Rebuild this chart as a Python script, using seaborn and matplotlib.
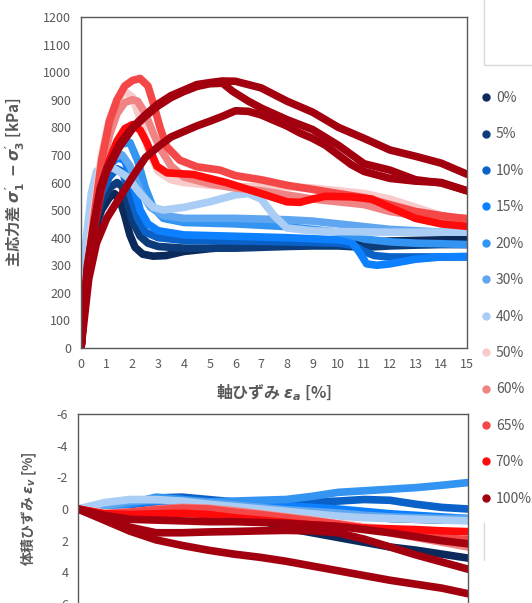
import pandas as pd
import seaborn as sns
import matplotlib.pyplot as plt
from matplotlib.lines import Line2D

# ---------------- data ----------------
legend_labels = ['0%', '5%', '10%', '15%', '20%', '30%', '40%', '50%', '60%', '65%', '70%', '100%']
legend_colors = ['#0b2a5b', '#0c3d7a', '#0a62c9', '#0c80ff', '#3394f2', '#5ea6f0', '#a9cdf5',
                 '#f9caca', '#f08484', '#f44848', '#ff0a0a', '#a3000f']

# tests in drawing order (three tests at 100%)
tests = ['0%', '5%', '10%', '15%', '20%', '30%', '40%', '50%', '60%', '65%', '70%',
         '100%a', '100%b', '100%c']

# deviator stress (kPa) vs axial strain (%)
s_00 = [0, 0.2, 0.5, 0.8, 1.1, 1.3, 1.5, 1.7, 1.9, 2.1, 2.4, 2.8, 3.3, 4, 5, 6, 7, 8, 9, 10, 11, 12, 13, 14, 15]
q_00 = [0, 250, 420, 500, 545, 560, 540, 480, 410, 365, 340, 333, 335, 350, 360, 368, 372, 375, 375, 378, 383, 388, 390, 392, 393]
s_05 = [0, 0.2, 0.5, 0.8, 1.1, 1.4, 1.6, 1.8, 2.0, 2.3, 2.6, 3.0, 4, 6, 8, 9, 10, 11, 12, 13, 14, 15]
q_05 = [0, 260, 440, 530, 580, 600, 585, 530, 460, 405, 380, 368, 362, 362, 368, 370, 370, 365, 370, 373, 375, 375]
s_10 = [0, 0.2, 0.5, 0.8, 1.1, 1.4, 1.6, 1.9, 2.2, 2.5, 3, 4, 6, 8, 10, 10.6, 11, 11.4, 12, 13, 14, 15]
q_10 = [0, 270, 460, 560, 620, 650, 640, 560, 470, 420, 400, 390, 388, 385, 380, 372, 350, 335, 330, 330, 330, 330]
s_15 = [0, 0.2, 0.5, 0.8, 1.1, 1.4, 1.7, 2.0, 2.3, 2.6, 3, 4, 6, 8, 10, 10.5, 10.8, 11.1, 11.5, 12, 13, 14, 15]
q_15 = [0, 280, 480, 590, 660, 690, 680, 600, 500, 450, 425, 410, 405, 400, 392, 385, 350, 305, 300, 305, 322, 330, 332]
s_20 = [0, 0.2, 0.5, 0.8, 1.2, 1.6, 1.9, 2.2, 2.5, 2.8, 3.2, 4, 6, 8, 10, 11, 12, 13, 14, 15]
q_20 = [0, 290, 500, 620, 700, 740, 745, 680, 580, 510, 470, 455, 450, 440, 420, 395, 385, 380, 378, 375]
s_30 = [0, 0.2, 0.5, 0.8, 1.2, 1.6, 1.9, 2.3, 2.7, 3.2, 4, 6, 8, 9, 10, 11, 12, 13, 14, 15]
q_30 = [0, 320, 530, 640, 690, 700, 660, 570, 510, 480, 470, 470, 465, 460, 450, 440, 430, 425, 420, 420]
s_40 = [0, 0.15, 0.4, 0.6, 0.9, 1.3, 1.8, 2.3, 2.8, 3.2, 4, 5, 6, 6.5, 7, 7.5, 8, 9, 10, 12, 14, 15]
q_40 = [0, 350, 560, 640, 660, 650, 620, 560, 510, 500, 510, 530, 555, 560, 540, 480, 435, 425, 422, 420, 420, 420]
s_50 = [0, 0.2, 0.5, 0.8, 1.1, 1.4, 1.7, 2.0, 2.3, 2.6, 3.0, 3.5, 4, 5, 6, 7, 8, 9, 10, 11, 12, 13, 14, 15]
q_50 = [0, 250, 500, 700, 830, 900, 930, 910, 830, 720, 640, 610, 600, 590, 585, 585, 585, 580, 570, 560, 540, 510, 480, 460]
s_60 = [0, 0.2, 0.5, 0.8, 1.1, 1.4, 1.7, 2.0, 2.2, 2.5, 2.8, 3.1, 3.5, 4, 5, 6, 7, 8, 9, 10, 11, 12, 13, 14, 15]
q_60 = [0, 230, 450, 640, 770, 850, 890, 900, 895, 850, 780, 720, 660, 620, 595, 580, 570, 555, 540, 530, 520, 495, 480, 475, 470]
s_65 = [0, 0.2, 0.5, 0.8, 1.1, 1.4, 1.7, 2.0, 2.3, 2.6, 2.8, 3.07, 3.33, 3.84, 4.5, 5.4, 6, 7, 8, 9, 10, 11, 12, 13, 14, 15]
q_65 = [0, 230, 470, 680, 820, 900, 950, 970, 977, 950, 890, 800, 730, 681, 657, 645, 625, 610, 590, 575, 560, 545, 520, 495, 480, 468]
s_70 = [0, 0.2, 0.5, 0.8, 1.1, 1.4, 1.7, 2.0, 2.3, 2.56, 2.95, 3.34, 4.37, 5.67, 7, 8, 8.5, 9, 9.5, 10.5, 11.3, 12, 13, 14, 15]
q_70 = [0, 220, 430, 580, 680, 750, 795, 810, 790, 744, 659, 635, 629, 599, 560, 530, 528, 540, 550, 548, 540, 510, 470, 450, 441]
s_100a = [0, 0.25, 0.5, 0.75, 1.0, 1.5, 2.0, 2.5, 3.0, 3.5, 4.0, 4.5, 5, 5.5, 6, 7, 8, 9, 10, 11, 12, 13, 14, 15]
q_100a = [0, 300, 450, 580, 650, 740, 800, 845, 885, 915, 935, 955, 962, 968, 967, 943, 895, 855, 800, 760, 718, 695, 670, 630]
s_100b = [0, 0.25, 0.5, 0.75, 1.0, 1.5, 2.0, 2.5, 3.0, 3.5, 4.0, 4.5, 5, 5.5, 5.9, 6.5, 7, 8, 9, 10, 11, 12, 13, 14, 15]
q_100b = [0, 290, 440, 570, 640, 730, 795, 840, 878, 908, 930, 948, 958, 960, 930, 895, 870, 828, 792, 735, 668, 645, 610, 598, 570]
s_100c = [0, 0.3, 0.6, 1.0, 1.5, 2, 2.5, 3, 3.5, 4, 4.5, 5, 5.5, 6, 6.5, 7, 7.5, 8, 8.5, 9, 9.5, 10, 10.5, 11, 12, 13, 14, 15]
q_100c = [0, 250, 380, 470, 545, 620, 690, 730, 765, 785, 805, 822, 840, 860, 858, 845, 825, 805, 780, 760, 735, 700, 665, 640, 615, 605, 600, 570]

# volumetric strain (%) read at integer axial strains
vol_strain = [0, 1, 2, 3, 4, 5, 6, 7, 8, 9, 10, 11, 12, 13, 14, 15]
ev_00 = [0, 0.02, 0.0, -0.1, -0.1, 0.05, 0.3, 0.7, 1.2, 1.5, 1.8, 2.1, 2.4, 2.6, 2.85, 3.1]
ev_05 = [0, 0.02, 0.0, -0.15, -0.2, -0.1, 0.0, 0.1, 0.2, 0.3, 0.35, 0.45, 0.6, 0.65, 0.7, 0.7]
ev_10 = [0, -0.05, -0.3, -0.7, -0.75, -0.6, -0.45, -0.4, -0.4, -0.45, -0.5, -0.6, -0.55, -0.3, -0.1, 0.0]
ev_15 = [0, -0.02, -0.3, -0.5, -0.45, -0.35, -0.3, -0.25, -0.2, -0.1, 0.0, 0.15, 0.3, 0.4, 0.5, 0.6]
ev_20 = [0, -0.05, -0.35, -0.75, -0.6, -0.45, -0.5, -0.55, -0.6, -0.8, -1.05, -1.15, -1.25, -1.35, -1.5, -1.67]
ev_30 = [0, -0.2, -0.5, -0.55, -0.5, -0.4, -0.25, -0.1, 0.05, 0.15, 0.25, 0.4, 0.5, 0.55, 0.6, 0.6]
ev_40 = [0, -0.4, -0.6, -0.6, -0.5, -0.3, -0.15, 0.0, 0.15, 0.3, 0.45, 0.55, 0.6, 0.65, 0.7, 0.75]
ev_50 = [0, 0.25, 0.2, 0.05, -0.05, 0.0, 0.15, 0.3, 0.5, 0.7, 0.9, 1.1, 1.3, 1.45, 1.6, 1.7]
ev_60 = [0, 0.3, 0.2, 0.0, -0.1, -0.05, 0.1, 0.3, 0.5, 0.7, 0.95, 1.2, 1.5, 1.8, 2.1, 2.4]
ev_65 = [0, 0.3, 0.2, 0.05, -0.05, 0.0, 0.2, 0.35, 0.55, 0.75, 0.95, 1.2, 1.45, 1.65, 1.8, 1.95]
ev_70 = [0, 0.3, 0.35, 0.3, 0.27, 0.35, 0.55, 0.7, 0.85, 1.0, 1.1, 1.2, 1.25, 1.3, 1.38, 1.43]
ev_100a = [0, 0.4, 0.65, 0.7, 0.75, 0.8, 0.8, 0.85, 0.9, 1.0, 1.1, 1.3, 1.5, 1.75, 2.0, 2.2]
ev_100b = [0, 0.6, 1.15, 1.5, 1.5, 1.45, 1.42, 1.38, 1.35, 1.38, 1.5, 1.9, 2.4, 2.9, 3.35, 3.8]
ev_100c = [0, 0.7, 1.4, 1.95, 2.3, 2.6, 2.85, 3.05, 3.3, 3.6, 3.9, 4.2, 4.5, 4.75, 5.0, 5.35]

# ---------------- tables ----------------
strains = [s_00, s_05, s_10, s_15, s_20, s_30, s_40, s_50, s_60, s_65, s_70, s_100a, s_100b, s_100c]
stresses = [q_00, q_05, q_10, q_15, q_20, q_30, q_40, q_50, q_60, q_65, q_70, q_100a, q_100b, q_100c]
vols = [ev_00, ev_05, ev_10, ev_15, ev_20, ev_30, ev_40, ev_50, ev_60, ev_65, ev_70, ev_100a, ev_100b, ev_100c]

qdf = pd.concat([pd.DataFrame({'test': t, 'strain': s, 'q': q})
                 for t, s, q in zip(tests, strains, stresses)], ignore_index=True)
vdf = pd.concat([pd.DataFrame({'test': t, 'strain': vol_strain, 'ev': v})
                 for t, v in zip(tests, vols)], ignore_index=True)

pal = dict(zip(legend_labels, legend_colors))
pal['100%a'] = pal['100%b'] = pal['100%c'] = pal['100%']

# ---------------- style ----------------
sns.set_style('white')
plt.rcParams['font.family'] = ['Noto Sans CJK JP', 'DejaVu Sans']
plt.rcParams['axes.unicode_minus'] = False
plt.rcParams['mathtext.fontset'] = 'custom'
plt.rcParams['mathtext.it'] = 'DejaVu Sans:italic:bold'
plt.rcParams['mathtext.rm'] = 'DejaVu Sans:bold'
plt.rcParams['mathtext.bf'] = 'DejaVu Sans:bold'

grey = '#595959'
W, H = 532, 603
fig = plt.figure(figsize=(W / 100, H / 100), dpi=100)

ax1 = fig.add_axes([81 / W, 1 - 348 / H, 386 / W, 331 / H])
ax2 = fig.add_axes([78 / W, 1 - 604 / H, 390 / W, 190 / H])

line_kw = dict(lw=5.5, sort=False, estimator=None, legend=False,
               solid_capstyle='round', solid_joinstyle='round')
sns.lineplot(data=qdf, x='strain', y='q', hue='test', hue_order=tests, palette=pal, ax=ax1, **line_kw)
sns.lineplot(data=vdf, x='strain', y='ev', hue='test', hue_order=tests, palette=pal, ax=ax2, **line_kw)

# top axes
ax1.set_xlim(0, 15)
ax1.set_ylim(0, 1200)
ax1.set_xticks(range(0, 16))
ax1.set_yticks(range(0, 1201, 100))
ax1.tick_params(direction='in', length=4, color=grey, labelcolor=grey, labelsize=9, pad=7)
ax1.set_xlabel('軸ひずみ $\\varepsilon_a$ [%]', color=grey, fontsize=11.5, fontweight='bold')
ax1.set_ylabel("主応力差 $\\sigma^{\\prime}_1\\,-\\sigma^{\\prime}_3$ [kPa]", color=grey,
               fontsize=11, fontweight='bold')
ax1.xaxis.set_label_coords(0.5, -0.105)
ax1.yaxis.set_label_coords(-0.14, 0.5)

# bottom axes
ax2.set_xlim(0, 15)
ax2.set_ylim(6, -6)
ax2.set_yticks(range(-6, 7, 2))
ax2.set_xticks([])
ax2.tick_params(direction='in', length=4, color=grey, labelcolor=grey, labelsize=9, pad=7)
ax2.set_xlabel('')
ax2.set_ylabel('体積ひずみ $\\varepsilon_v$ [%]', color=grey, fontsize=10, fontweight='bold')
ax2.yaxis.set_label_coords(-0.1, 0.5)

for ax in (ax1, ax2):
    for sp in ax.spines.values():
        sp.set_color(grey)
        sp.set_linewidth(1)

# legend
handles = [Line2D([], [], ls='', marker='o', markersize=5, color=c) for c in legend_colors]
fig.legend(handles, legend_labels, loc='upper left', bbox_to_anchor=(475 / W, 1 - 84 / H),
           frameon=False, fontsize=10, labelcolor=grey, handlelength=0.6,
           handletextpad=0.4, labelspacing=1.615, borderpad=0)

# faint outlines of neighbouring boxes
for xs, ys in [([484, 484], [0, 65]), ([484, 532], [65, 65]), ([484, 484], [523, 560])]:
    fig.add_artist(Line2D([x / W for x in xs], [1 - y / H for y in ys],
                          transform=fig.transFigure, color='#d9d9d9', lw=1))

fig.savefig('out.png', dpi=100)
